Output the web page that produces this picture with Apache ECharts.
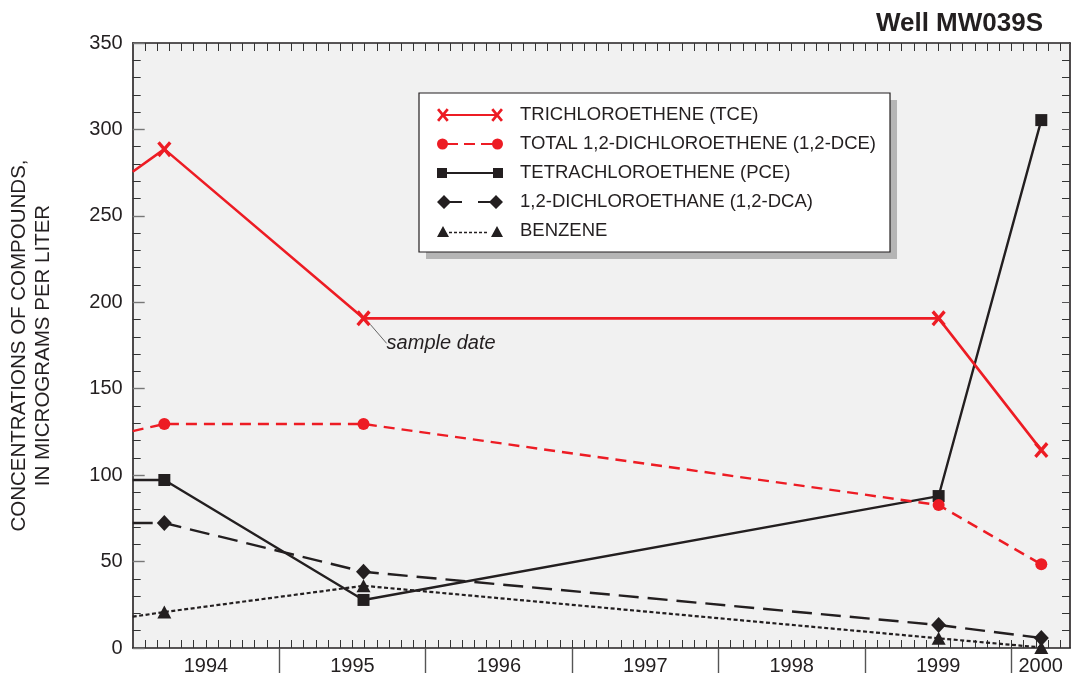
<!DOCTYPE html>
<html>
<head>
<meta charset="utf-8">
<script src="https://cdn.jsdelivr.net/npm/echarts@6/dist/echarts.min.js"></script>
<style>
  html, body { margin: 0; padding: 0; background: #fff; }
  #chart { width: 1071px; height: 681px; }
</style>
</head>
<body>
<div id="chart"></div>
<script>
// ---------------- DATA ----------------
// x values are decimal years; the first entry of each series is the value where the
// line (continuing from earlier samples) enters the plot at its left edge.
const sampleDates = [1994.0, 1994.216, 1995.576, 1999.503, 2000.204];
const tce     = [275.5, 288.6, 190.7, 190.7, 114.5];
const dce     = [125.5, 129.6, 129.6, 82.7, 48.4];
const pce     = [97.2, 97.2, 27.8, 87.9, 305.4];
const dca     = [72.3, 72.3, 44.1, 13.3, 5.8];
const benzene = [18.1, 20.8, 36.0, 5.6, 0.3];

const seriesNames = [
  'TRICHLOROETHENE (TCE)',
  'TOTAL 1,2-DICHLOROETHENE (1,2-DCE)',
  'TETRACHLOROETHENE (PCE)',
  '1,2-DICHLOROETHANE (1,2-DCA)',
  'BENZENE'
];
const years = [1994, 1995, 1996, 1997, 1998, 1999, 2000];
const xMin = 1994.0, xMax = 2000.40;
const yMin = 0, yMax = 350, yStep = 50;
const titleText = 'Well MW039S';
const yTitle = 'CONCENTRATIONS OF COMPOUNDS,\nIN MICROGRAMS PER LITER';
const annotationText = 'sample date';

// ---------------- STYLE ----------------
const FONT = "'Liberation Sans', Arial, Helvetica, sans-serif";
const RED = '#ed1c24';
const BLACK = '#231f20';

function bar(x1, y1, x2, y2, t) {
  const dx = x2 - x1, dy = y2 - y1, L = Math.hypot(dx, dy);
  const nx = -dy / L * t / 2, ny = dx / L * t / 2;
  const f = v => v.toFixed(2);
  return `M${f(x1+nx)} ${f(y1+ny)}L${f(x2+nx)} ${f(y2+ny)}L${f(x2-nx)} ${f(y2-ny)}L${f(x1-nx)} ${f(y1-ny)}Z`;
}
function circ(cx, cy, r) {
  return `M${cx-r} ${cy}A${r} ${r} 0 1 0 ${cx+r} ${cy}A${r} ${r} 0 1 0 ${cx-r} ${cy}Z`;
}
function diam(cx, cy, h) {
  return `M${cx-h} ${cy}L${cx} ${cy+h}L${cx+h} ${cy}L${cx} ${cy-h}Z`;
}
function tri(cx, cy, w, h) {
  return `M${cx-w/2} ${cy+h/2}L${cx+w/2} ${cy+h/2}L${cx} ${cy-h/2}Z`;
}
const BOX = 'M0 0L0 0.01Z M66 14L66 13.99Z';
function xMark(x0, y0, w, h, t) { return bar(x0, y0, x0 + w, y0 + h, t) + bar(x0, y0 + h, x0 + w, y0, t); }

const xSymbol = 'path://' + xMark(0, 0, 12, 13, 3.4);

const legendIcons = [
  'path://' + BOX + xMark(0, 1, 10, 12, 2.8) + xMark(56, 1, 10, 12, 2.8) + bar(5, 7, 61, 7, 2),
  'path://' + BOX + circ(5.5, 7, 5.5) + circ(60.5, 7, 5.5) + bar(10, 7, 21, 7, 2) + bar(27, 7, 38, 7, 2) + bar(44, 7, 56, 7, 2),
  'path://' + BOX + bar(0, 7, 10, 7, 10) + bar(56, 7, 66, 7, 10) + bar(10, 7, 56, 7, 2),
  'path://' + BOX + diam(7, 7, 7) + diam(59, 7, 7) + bar(7, 7, 25, 7, 2) + bar(41, 7, 59, 7, 2),
  'path://' + BOX + tri(6, 7.5, 12, 11) + tri(60, 7.5, 12, 11) +
    [12, 17, 22, 27, 32, 37, 42, 47].map(x => bar(x, 8.5, x + 3, 8.5, 1.6)).join('')
];

function mk(vals, extra) {
  return sampleDates.map((d, i) => {
    const item = { value: [d, vals[i]] };
    if (i === 0) item.symbol = 'none';
    if (extra && extra[i]) Object.assign(item, extra[i]);
    return item;
  });
}

const monthTicks = [];
for (let k = 1; xMin + k / 12 <= xMax + 1e-9; k++) monthTicks.push(xMin + k / 12);
const yearBoundaries = years.filter(y => y > xMin && y < xMax);
const yearLabelPos = years.map(y => (Math.max(y, xMin) + Math.min(y + 1, xMax)) / 2);

const labelStyle = { fontFamily: FONT, fontSize: 20, color: BLACK };

const baseSeries = (name, vals, color, width, type, symbol, size, extra) => ({
  name, type: 'line', xAxisIndex: 0, yAxisIndex: 0,
  data: mk(vals, extra),
  symbol, symbolSize: size, symbolKeepAspect: true,
  color,
  lineStyle: { color, width, type },
  itemStyle: { color, borderWidth: 0 },
  emphasis: { disabled: true },
  clip: true
});

const legendCommon = {
  orient: 'vertical',
  padding: [12, 14, 11, 18], itemGap: 9, itemWidth: 66, itemHeight: 14,
  selectedMode: false,
  data: seriesNames.map((n, i) => ({ name: n, icon: legendIcons[i] }))
};
const legendText = { fontFamily: FONT, fontSize: 18.5, lineHeight: 20, padding: [0, 0, 0, 12] };

const chart = echarts.init(document.getElementById('chart'), null, { renderer: 'canvas' });
const option = {
  animation: false,
  backgroundColor: '#ffffff',
  title: {
    text: titleText, right: 23, top: 6,
    textStyle: { fontFamily: FONT, fontWeight: 'bold', fontSize: 26, color: BLACK }
  },
  grid: {
    left: 132.7, right: 1, top: 43, bottom: 33,
    show: true, backgroundColor: '#f1f1f1', borderWidth: 0,
    outerBoundsMode: 'none'
  },
  legend: [
    Object.assign({}, legendCommon, {
      // drop shadow box
      left: 426, top: 100, z: 3,
      backgroundColor: '#b5b5b5', borderWidth: 0,
      itemStyle: { borderWidth: 0, opacity: 0 },
      textStyle: Object.assign({ color: 'rgba(0,0,0,0)' }, legendText)
    }),
    Object.assign({}, legendCommon, {
      left: 419, top: 93, z: 5,
      backgroundColor: '#ffffff', borderColor: BLACK, borderWidth: 1.2,
      itemStyle: { borderWidth: 0 },
      textStyle: Object.assign({ color: BLACK }, legendText)
    })
  ],
  xAxis: [
    {
      type: 'value', position: 'bottom', min: xMin, max: xMax,
      axisLine: { show: true, onZero: false, lineStyle: { color: BLACK, width: 1.6 } },
      axisTick: { show: true, inside: false, length: 25, customValues: yearBoundaries, lineStyle: { color: '#555', width: 1.4 } },
      axisLabel: {
        show: true, margin: 8, customValues: yearLabelPos,
        formatter: v => String(Math.floor(v + 1e-6)), ...labelStyle
      },
      splitLine: { show: false }
    },
    {
      type: 'value', position: 'bottom', min: xMin, max: xMax,
      axisLine: { show: false, onZero: false },
      axisTick: { show: true, inside: true, length: 8, customValues: monthTicks, lineStyle: { color: '#333', width: 1 } },
      axisLabel: { show: false },
      splitLine: { show: false }
    },
    {
      type: 'value', position: 'top', min: xMin, max: xMax,
      axisLine: { show: true, onZero: false, lineStyle: { color: BLACK, width: 1.6 } },
      axisTick: { show: true, inside: true, length: 8, customValues: monthTicks, lineStyle: { color: '#333', width: 1 } },
      axisLabel: { show: false },
      splitLine: { show: false }
    }
  ],
  yAxis: [
    {
      type: 'value', position: 'left', min: yMin, max: yMax, interval: yStep,
      name: yTitle, nameLocation: 'middle', nameGap: 77, nameRotate: 90,
      nameTextStyle: { fontFamily: FONT, fontSize: 20.5, lineHeight: 24, color: BLACK, align: 'center' },
      axisLine: { show: true, onZero: false, lineStyle: { color: BLACK, width: 1.6 } },
      axisTick: { show: true, inside: true, length: 12, lineStyle: { color: '#777', width: 1.4 } },
      minorTick: { show: true, splitNumber: 5, length: 8, lineStyle: { color: '#333', width: 1 } },
      axisLabel: { show: true, margin: 10, ...labelStyle },
      splitLine: { show: false }
    },
    {
      type: 'value', position: 'right', min: yMin, max: yMax, interval: yStep,
      axisLine: { show: true, onZero: false, lineStyle: { color: BLACK, width: 1.6 } },
      axisTick: { show: true, inside: true, length: 8, lineStyle: { color: '#555', width: 1 } },
      minorTick: { show: true, splitNumber: 5, length: 8, lineStyle: { color: '#333', width: 1 } },
      axisLabel: { show: false },
      splitLine: { show: false }
    }
  ],
  series: [
    baseSeries(seriesNames[4], benzene, BLACK, 2.2, [4, 2.5], 'triangle', [14, 13]),
    baseSeries(seriesNames[3], dca, BLACK, 2.4, [20, 9], 'diamond', [15, 16]),
    baseSeries(seriesNames[2], pce, BLACK, 2.4, 'solid', 'rect', [12, 12]),
    baseSeries(seriesNames[1], dce, RED, 2.4, [11, 7], 'circle', [12, 12]),
    Object.assign(
      baseSeries(seriesNames[0], tce, RED, 2.6, 'solid', xSymbol, [15, 16], {
        2: {
          label: {
            show: true, formatter: annotationText, position: 'right', distance: 4,
            fontFamily: FONT, fontSize: 20, fontStyle: 'italic', color: BLACK
          },
          labelLine: { show: true, lineStyle: { color: '#666', width: 1 } }
        }
      }),
      { labelLayout: { dx: 12, dy: 25 } }
    )
  ]
};
chart.setOption(option);
</script>
</body>
</html>
